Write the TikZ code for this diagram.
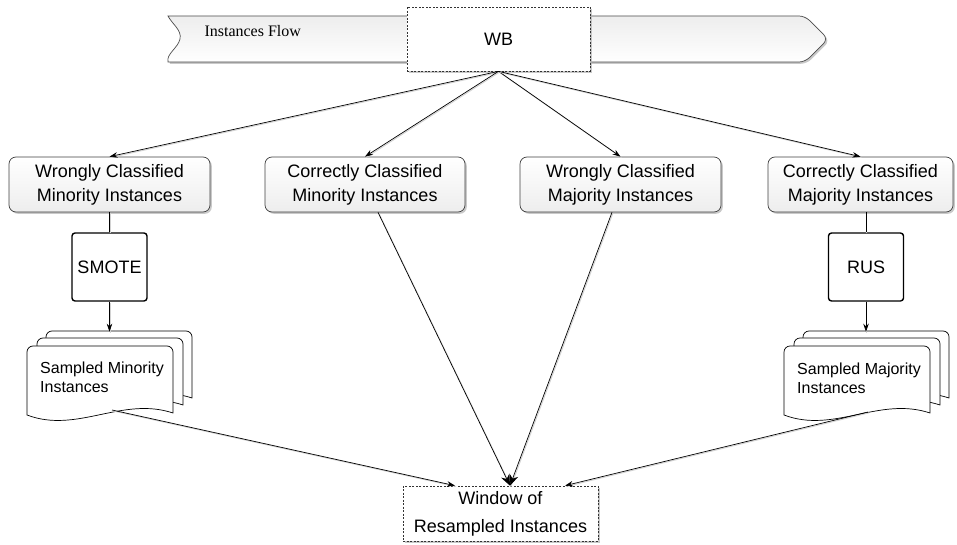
\documentclass[tikz,border=0pt]{standalone}
\usepackage{fontspec}
\setmainfont{Liberation Sans}
\newfontfamily\flowserif{Liberation Serif}
\usetikzlibrary{arrows.meta,shadows,calc}
\tikzset{
  boxshadow/.style={drop shadow={shadow xshift=1.8pt,shadow yshift=-1.8pt,fill=gray!60,opacity=0.7}},
  classbox/.style={draw=black!75, line width=0.7pt, rounded corners=7pt, top color=white, bottom color=gray!14,
    minimum height=55pt, align=center, inner sep=2pt, boxshadow,
    font=\fontsize{18}{24}\selectfont},
  opbox/.style={draw=black, line width=1.4pt, rounded corners=3pt, fill=white,
    minimum width=75pt, minimum height=68pt, font=\fontsize{18}{22}\selectfont},
  dashbox/.style={draw=black!80, dashed, dash pattern=on 2pt off 1.5pt, line width=0.7pt, fill=white, boxshadow,
    align=center},
  conn/.style={line width=0.7pt, draw=black,
    preaction={draw=gray!35, line width=0.9pt, -, transform canvas={shift={(0.9pt,-0.9pt)}}}},
  tip/.style={-{Stealth[length=8pt,width=5.5pt]}},
  bigtip/.style={-{Stealth[length=11pt,width=9pt]}},
  doc/.pic={
    \draw[fill=white, line width=0.7pt] (0,69) [rounded corners=6pt] -- (0,0) -- (146,0) [sharp corners] -- (146,67)
      .. controls (95,50) and (50,88) .. (0,69) -- cycle;
  }
}
\begin{document}
\begin{tikzpicture}[x=1pt,y=-1pt]
\useasboundingbox (0,0) rectangle (957,545);
% banner
\path[fill=gray!60, opacity=0.7, transform canvas={shift={(1.8pt,-1.8pt)}}]
  (168,16) [rounded corners=6pt] -- (805,16) -- (828,39) -- (805,62) [sharp corners] -- (168,62)
  .. controls (166,54) and (178,48) .. (180,39) .. controls (182,30) and (172,24) .. (168,16) -- cycle;
\path[draw=black!70, line width=0.7pt, top color=gray!14, bottom color=white]
  (168,16) [rounded corners=6pt] -- (805,16) -- (828,39) -- (805,62) [sharp corners] -- (168,62)
  .. controls (166,54) and (178,48) .. (180,39) .. controls (182,30) and (172,24) .. (168,16) -- cycle;
\node[anchor=west, font=\flowserif\fontsize{16}{18}\selectfont] (flow) at (201,31) {Instances Flow};
% WB
\node[dashbox, minimum width=183pt, minimum height=64pt, font=\fontsize{18}{22}\selectfont] (wb) at (498.5,39) {WB};
% class boxes
\node[classbox, minimum width=201pt] (b1) at (109.5,184.5) {Wrongly Classified\\Minority Instances};
\node[classbox, minimum width=200pt] (b2) at (365,184.5) {Correctly Classified\\Minority Instances};
\node[classbox, minimum width=201pt] (b3) at (620.5,184.5) {Wrongly Classified\\Majority Instances};
\node[classbox, minimum width=185pt] (b4) at (860.5,184.5) {Correctly Classified\\Majority Instances};
% operators
\node[opbox] (smote) at (109.5,267) {SMOTE};
\node[opbox] (rus) at (866,267) {RUS};
% documents
\pic at (46,331) {doc};
\pic at (37,338) {doc};
\pic at (27,346) {doc};
\node[anchor=west, align=left, inner sep=0pt, font=\fontsize{16}{19.5}\selectfont] (smin) at (40,377.5) {Sampled Minority\\Instances};
\pic at (803,331) {doc};
\pic at (794,338) {doc};
\pic at (784,346) {doc};
\node[anchor=west, align=left, inner sep=0pt, font=\fontsize{16}{19.5}\selectfont] (smaj) at (797,378.5) {Sampled Majority\\Instances};
\coordinate (minout) at (112,410);
\coordinate (majout) at (868,412);
% window
\node[dashbox, minimum width=195pt, minimum height=55pt, font=\fontsize{18}{28}\selectfont] (win) at (500.5,513.5) {Window of\\Resampled Instances};
% connectors
\draw[conn, tip] (wb.south) -- (b1.north);
\draw[conn, tip] (wb.south) -- (b2.north);
\draw[conn, tip] (wb.south) -- (b3.north);
\draw[conn, tip] (wb.south) -- (b4.north);
\draw[conn] (b1.south) -- (smote.north);
\draw[conn] (rus.north |- b4.south) -- (rus.north);
\draw[conn, tip] (smote.south) -- ++(0,30);
\draw[conn, tip] (rus.south) -- ++(0,30);
\draw[conn, tip] (minout) -- ([xshift=-45.5pt]win.north);
\draw[conn, bigtip] ([xshift=13pt]b2.south) -- ([xshift=9.5pt]win.north);
\draw[conn, bigtip] ([xshift=-8.5pt]b3.south) -- ([xshift=9.5pt]win.north);
\draw[conn, tip] (majout) -- ([xshift=64.5pt]win.north);
\end{tikzpicture}
\end{document}
